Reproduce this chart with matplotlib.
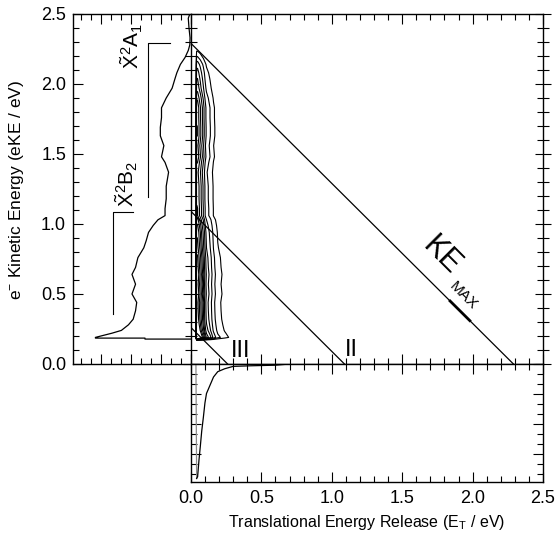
import numpy as np
import matplotlib
matplotlib.use("Agg")
import matplotlib.pyplot as plt
from matplotlib.ticker import MultipleLocator, NullFormatter

plt.rcParams['font.family'] = ['Liberation Sans', 'DejaVu Sans']
plt.rcParams['mathtext.fontset'] = 'custom'
plt.rcParams['mathtext.rm'] = 'Liberation Sans'
plt.rcParams['mathtext.it'] = 'Liberation Sans:italic'
plt.rcParams['mathtext.bf'] = 'Liberation Sans:bold'

# ---- photoelectron spectrum (left panel): eKE vs normalised intensity ----
eke = [2.50, 2.47, 2.40, 2.33, 2.28, 2.24, 2.19, 2.14, 2.08, 2.04, 1.97, 1.90,
       1.83, 1.76, 1.69, 1.63, 1.56, 1.48, 1.44, 1.37, 1.27, 1.18, 1.11, 1.06,
       1.03, 0.99, 0.94, 0.88, 0.83, 0.76, 0.69, 0.64, 0.57, 0.50, 0.44, 0.38,
       0.32, 0.28, 0.24, 0.22, 0.19, 0.185, 0.185, 0.178, 0.178]
pes = [0.010, 0.023, 0.017, 0.008, 0.010, 0.023, 0.050, 0.090, 0.120, 0.135,
       0.160, 0.210, 0.250, 0.250, 0.260, 0.260, 0.230, 0.250, 0.220, 0.190,
       0.210, 0.210, 0.220, 0.220, 0.280, 0.320, 0.360, 0.380, 0.400, 0.450,
       0.470, 0.500, 0.470, 0.500, 0.460, 0.470, 0.490, 0.530, 0.590, 0.670,
       0.810, 0.810, 0.390, 0.390, 0.000]

# ---- translational energy release distribution (bottom panel) ----
et = [0.000, 0.035, 0.040, 0.047, 0.057, 0.066, 0.076, 0.088, 0.099, 0.110,
      0.135, 0.160, 0.190, 0.240, 0.300, 0.430, 0.600, 0.700, 2.500]
pet = [0.000, 0.000, 0.970, 0.955, 0.810, 0.700, 0.570, 0.450, 0.330, 0.250,
       0.180, 0.110, 0.065, 0.040, 0.020, 0.015, 0.010, 0.000, 0.000]

# ---- energetic limits (eV) ----
limits = {'KE_MAX': 2.29, 'II': 1.09, 'III': 0.26}

# contour levels of the coincidence map
levels = [0.025, 0.045, 0.07, 0.10, 0.13, 0.17, 0.21, 0.25, 0.30, 0.36, 0.42]

W, H = 559, 547
fig = plt.figure(figsize=(W / 100, H / 100), dpi=100)


def rect(x0, y0, x1, y1):
    return [x0 / W, 1 - y1 / H, (x1 - x0) / W, (y1 - y0) / H]


ax_l = fig.add_axes(rect(73, 14, 191, 364))
ax_m = fig.add_axes(rect(191, 14, 543, 364))
ax_b = fig.add_axes(rect(191, 364, 543, 482))

lw = 0.9
for ax in (ax_l, ax_m, ax_b):
    for s in ax.spines.values():
        s.set_linewidth(1.0)

# ---------------- left panel ----------------
ax_l.plot(pes, eke, color='k', lw=lw)
ax_l.set_xlim(1.0, 0.0)
ax_l.set_ylim(0, 2.5)
ax_l.spines['right'].set_visible(False)
ax_l.xaxis.set_major_locator(MultipleLocator(30 / 118))
ax_l.xaxis.set_minor_locator(MultipleLocator(10 / 118))
ax_l.xaxis.set_major_formatter(NullFormatter())
ax_l.yaxis.set_major_locator(MultipleLocator(0.5))
ax_l.yaxis.set_minor_locator(MultipleLocator(0.1))
ax_l.yaxis.set_major_formatter(plt.FuncFormatter(lambda v, p: f"{v:.1f}"))
ax_l.tick_params(axis='both', which='both', direction='in', top=True,
                 bottom=True, left=True, right=False, labelsize=13, width=0.8)
ax_l.tick_params(which='major', length=7, pad=5)
ax_l.tick_params(which='minor', length=4)

# state brackets
ax_l.plot([0.661, 0.661, 0.489], [0.36, 1.087, 1.087], color='k', lw=0.8)
ax_l.plot([0.364, 0.364, 0.180], [1.19, 2.29, 2.29], color='k', lw=0.8)
ax_l.text(0.54, 1.29, r"$\tilde{\mathrm{X}}^2\mathrm{B}_2$", rotation=90,
          ha='center', va='center', fontsize=15)
ax_l.text(0.50, 2.27, r"$\tilde{\mathrm{X}}^2\mathrm{A}_1$", rotation=90,
          ha='center', va='center', fontsize=15)

# ---------------- main (coincidence map) ----------------
eke_arr = np.array(eke)
pes_arr = np.array(pes)
sel = eke_arr >= 0.19
ey = np.concatenate([[0.17], eke_arr[sel][::-1]])
fy = np.concatenate([[0.0], pes_arr[sel][::-1]])
Z = np.outer(fy, np.array(pet))
ax_m.contour(np.array(et), ey, Z, levels=levels, colors='k', linewidths=0.8)

for name, v in limits.items():
    ax_m.plot([0, v], [v, 0], color='k', lw=lw)
ax_m.plot([1.84, 1.98], [limits['KE_MAX'] - 1.84, limits['KE_MAX'] - 1.98],
          color='k', lw=2.0)

ax_m.text(0.35, 0.09, "III", fontsize=17, ha='center', va='center')
ax_m.text(1.14, 0.10, "II", fontsize=17, ha='center', va='center')
ax_m.text(1.78, 0.77, "KE", fontsize=22, rotation=-45, ha='center',
          va='center', rotation_mode='anchor')
ax_m.text(1.935, 0.49, "MAX", fontsize=11, rotation=-45, ha='center',
          va='center', rotation_mode='anchor')

ax_m.set_xlim(0, 2.5)
ax_m.set_ylim(0, 2.5)
for axis in (ax_m.xaxis, ax_m.yaxis):
    axis.set_major_locator(MultipleLocator(0.5))
    axis.set_minor_locator(MultipleLocator(0.1))
ax_m.tick_params(axis='both', which='both', direction='in', top=True,
                 right=True, left=True, bottom=True, labelleft=False,
                 labelbottom=False, width=0.8)
ax_m.tick_params(axis='y', which='both', direction='inout')
ax_m.tick_params(which='major', length=7)
ax_m.tick_params(which='minor', length=4)
ax_m.tick_params(axis='y', which='major', length=11)
ax_m.tick_params(axis='y', which='minor', length=8)

# ---------------- bottom panel ----------------
ax_b.plot(et[1:3], pet[1:3], color='0.55', lw=lw)
ax_b.plot(et[2:], pet[2:], color='k', lw=lw)
ax_b.set_xlim(0, 2.5)
ax_b.set_ylim(1.0, 0.0)
ax_b.xaxis.set_major_locator(MultipleLocator(0.5))
ax_b.xaxis.set_minor_locator(MultipleLocator(0.1))
ax_b.xaxis.set_major_formatter(plt.FuncFormatter(lambda v, p: f"{v:.1f}"))
ax_b.yaxis.set_major_locator(MultipleLocator(30 / 118))
ax_b.yaxis.set_minor_locator(MultipleLocator(10 / 118))
ax_b.yaxis.set_major_formatter(NullFormatter())
ax_b.tick_params(axis='both', which='both', direction='in', top=True,
                 right=True, left=True, bottom=True, labelsize=13, width=0.8)
ax_b.tick_params(which='major', length=7, pad=6)
ax_b.tick_params(which='minor', length=4)

fig.text(17 / W, 1 - 190 / H, r"e$^{-}$ Kinetic Energy (eKE / eV)",
         rotation=90, ha='center', va='center', fontsize=12.5)
fig.text(367 / W, 1 - 522 / H, r"Translational Energy Release (E$_{\mathrm{T}}$ / eV)",
         ha='center', va='center', fontsize=11.5)

fig.savefig("out.png", dpi=100)
